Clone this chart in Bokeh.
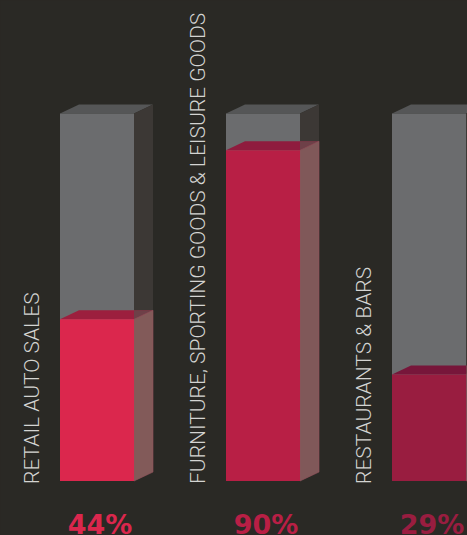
from bokeh.plotting import figure
from bokeh.models import Range1d, ColumnDataSource
from bokeh.embed import file_html
from bokeh.resources import INLINE
from bokeh.core.properties import value

# Share of each retail sector
categories = ["RETAIL AUTO SALES", "FURNITURE, SPORTING GOODS & LEISURE GOODS", "RESTAURANTS & BARS"]
shares = [44, 90, 29]
front_colors = ["#db274d", "#b81f45", "#991d40"]
top_colors = ["#9c1f3e", "#8f1c3e", "#77163a"]
side_colors = ["#865c5c", "#845a5c", "#7a5058"]

BG = "#2a2925"
W, H = 467, 535
PX_PER_PCT = 3.675         # vertical scale of the y axis
BASE_PX = 480.5            # screen row of the 0 % line
LEFT0, STEP, BAR_W = 59.5, 166, 74
DX, DY = 19, 9 / PX_PER_PCT   # oblique offset of the box's depth

p = figure(width=W, height=H, output_backend="svg", toolbar_location=None,
           x_range=Range1d(0, W),
           y_range=Range1d(-(H - BASE_PX) / PX_PER_PCT, BASE_PX / PX_PER_PCT),
           min_border=0, min_border_left=0, min_border_right=0,
           min_border_top=0, min_border_bottom=0,
           background_fill_color=BG, border_fill_color=BG,
           outline_line_color=None, styles={"background-color": BG})
p.xaxis.visible = False
p.yaxis.visible = False
p.xgrid.visible = False
p.ygrid.visible = False


def box_faces(x0, level):
    x1 = x0 + BAR_W
    front = ([x0, x1, x1, x0], [0, 0, level, level])
    top = ([x0, x0 + DX, x1 + DX, x1], [level, level + DY, level + DY, level])
    side = ([x1, x1 + DX, x1 + DX, x1], [0, DY, level + DY, level])
    corner = ([x1, x1, x1 + DX], [level, level + DY, level + DY])
    return front, top, side, corner


def draw(face, color, alpha=1.0, line=None):
    p.patch(face[0], face[1], fill_color=color, fill_alpha=alpha,
            line_color=line, line_width=0.6)


for i, (name, share) in enumerate(zip(categories, shares)):
    x0 = LEFT0 + STEP * i

    # empty container, full height
    front, top, side, _ = box_faces(x0, 100)
    draw(top, "#555657")
    draw(front, "#6b6c6e")
    draw(side, "#3c3835")

    # filled part
    front, top, side, corner = box_faces(x0, share)
    draw(top, top_colors[i])
    draw(corner, "#6e4048")
    draw(side, side_colors[i], 0.95, line="#94505a")
    draw(front, front_colors[i])

    source = ColumnDataSource(dict(x=[x0 - 28], y=[-0.8], t=[name]))
    p.text("x", "y", text="t", source=source, angle=90, angle_units="deg",
           text_font=value("Roboto Light"), text_font_size="21px",
           text_color="#d4d4d2", text_align="left", text_baseline="alphabetic")

    p.text([x0 + BAR_W / 2 + 3], [-11.9], text=[f"{share}%"],
           text_font=value("DejaVu Sans"), text_font_style="bold",
           text_font_size="27px", text_color=front_colors[i],
           text_align="center", text_baseline="alphabetic")

open("out.html", "w").write(file_html(p, INLINE))
